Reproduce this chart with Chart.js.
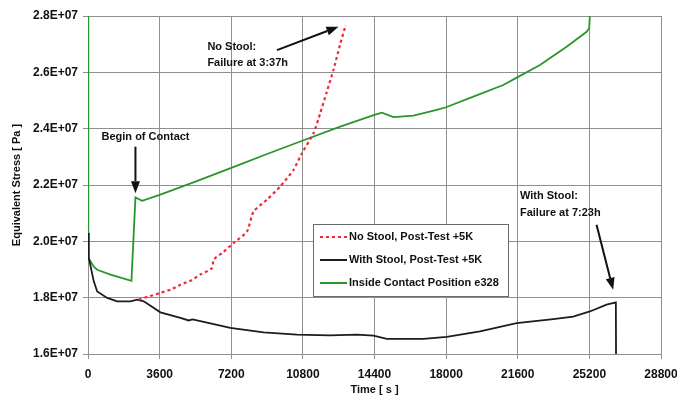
<!DOCTYPE html>
<html>
<head>
<meta charset="utf-8">
<script src="https://cdn.jsdelivr.net/npm/chart.js@4"></script>
<style>
  body { margin: 0; background: #fff; }
</style>
</head>
<body>
<canvas id="stress" width="677" height="405"></canvas>
<script>
// time [s] and equivalent stress [Pa]
const noStoolT = [2550, 3000, 3640, 4200, 4644, 5200, 5648, 6235, 6315, 6800, 7319, 7992, 8323, 8996, 9664, 10331, 10753, 11335, 11672, 12000, 12339, 12676, 12950];
const noStoolV = [1.793e7, 1.803e7, 1.817e7, 1.830e7, 1.846e7, 1.862e7, 1.882e7, 1.905e7, 1.935e7, 1.962e7, 1.994e7, 2.035e7, 2.106e7, 2.148e7, 2.195e7, 2.254e7, 2.313e7, 2.384e7, 2.455e7, 2.530e7, 2.609e7, 2.700e7, 2.768e7];

const withStoolT = [0, 40, 291, 462, 964, 1466, 2134, 2470, 2801, 3640, 4644, 5060, 5250, 5482, 7154, 8825, 10502, 12174, 13514, 14347, 15020, 16857, 18032, 19704, 21546, 23383, 24387, 25226, 26064, 26531, 26545];
const withStoolV = [2.03e7, 1.941e7, 1.858e7, 1.822e7, 1.799e7, 1.787e7, 1.787e7, 1.793e7, 1.787e7, 1.748e7, 1.728e7, 1.719e7, 1.723e7, 1.719e7, 1.693e7, 1.677e7, 1.669e7, 1.666e7, 1.669e7, 1.665e7, 1.654e7, 1.654e7, 1.661e7, 1.680e7, 1.710e7, 1.724e7, 1.733e7, 1.751e7, 1.775e7, 1.783e7, 1.5e7];

const contactT = [0, 15, 290, 460, 1130, 2184, 2385, 2720, 3600, 5400, 7200, 9000, 10800, 12676, 14397, 14769, 15351, 16355, 17530, 17997, 19367, 20873, 21596, 22716, 24056, 25060, 25190, 25300];
const contactV = [3.0e7, 1.942e7, 1.910e7, 1.899e7, 1.882e7, 1.860e7, 2.156e7, 2.144e7, 2.165e7, 2.212e7, 2.261e7, 2.310e7, 2.358e7, 2.407e7, 2.449e7, 2.457e7, 2.441e7, 2.446e7, 2.467e7, 2.476e7, 2.514e7, 2.555e7, 2.583e7, 2.626e7, 2.691e7, 2.744e7, 2.756e7, 2.9e7];

const xTicks = [0, 3600, 7200, 10800, 14400, 18000, 21600, 25200, 28800];
const yTicks = [1.6e7, 1.8e7, 2.0e7, 2.2e7, 2.4e7, 2.6e7, 2.8e7];

const pts = (t, v) => t.map((x, i) => ({x: x, y: v[i]}));
const FONT = 'Liberation Sans, Arial, sans-serif';
const GRID = '#8f8f8f';

// text notes and arrows, placed in data units
const notes = [
  {lines: ['No Stool:', 'Failure at 3:37h'], x: 6000, y: 2.691e7, arrow: [9500, 2.679e7, 12590, 2.762e7]},
  {lines: ['Begin of Contact'], x: 680, y: 2.372e7, arrow: [2385, 2.336e7, 2385, 2.171e7]},
  {lines: ['With Stool:', 'Failure at 7:23h'], x: 21710, y: 2.160e7, arrow: [25560, 2.059e7, 26395, 1.828e7]}
];

const notesPlugin = {
  id: 'notes',
  afterDatasetsDraw(chart) {
    const ctx = chart.ctx, xs = chart.scales.x, ys = chart.scales.y;
    ctx.save();
    ctx.font = 'bold 11px ' + FONT;
    ctx.fillStyle = '#111';
    ctx.strokeStyle = '#111';
    ctx.textBaseline = 'middle';
    notes.forEach(n => {
      n.lines.forEach((s, i) => {
        ctx.fillText(s, xs.getPixelForValue(n.x), ys.getPixelForValue(n.y) + i * 16.7);
      });
      const [t0, v0, t1, v1] = n.arrow;
      const x0 = xs.getPixelForValue(t0), y0 = ys.getPixelForValue(v0);
      const x1 = xs.getPixelForValue(t1), y1 = ys.getPixelForValue(v1);
      const a = Math.atan2(y1 - y0, x1 - x0), len = 12, w = 4.5;
      const bx = x1 - len * Math.cos(a), by = y1 - len * Math.sin(a);
      ctx.lineWidth = 2;
      ctx.beginPath(); ctx.moveTo(x0, y0); ctx.lineTo(bx, by); ctx.stroke();
      ctx.beginPath();
      ctx.moveTo(x1, y1);
      ctx.lineTo(bx + w * Math.sin(a), by - w * Math.cos(a));
      ctx.lineTo(bx - w * Math.sin(a), by + w * Math.cos(a));
      ctx.closePath(); ctx.fill();
    });

    // legend box inside the plot
    const ca = chart.chartArea;
    const lx = ca.left + 225, ly = ca.top + 208, lw = 195, lh = 72;
    ctx.fillStyle = '#fff';
    ctx.fillRect(lx, ly, lw, lh);
    ctx.strokeStyle = '#6a6a6a';
    ctx.lineWidth = 1;
    ctx.strokeRect(lx + 0.5, ly + 0.5, lw, lh);
    chart.data.datasets.forEach((d, i) => {
      const ry = ly + 13 + i * 23;
      ctx.strokeStyle = d.borderColor;
      ctx.lineWidth = 2;
      ctx.setLineDash(d.borderDash || []);
      ctx.beginPath(); ctx.moveTo(lx + 7, ry); ctx.lineTo(lx + 34, ry); ctx.stroke();
      ctx.setLineDash([]);
      ctx.fillStyle = '#111';
      ctx.fillText(d.label, lx + 36, ry);
    });
    ctx.restore();
  }
};

new Chart(document.getElementById('stress'), {
  type: 'scatter',
  data: {
    datasets: [
      {
        label: 'No Stool, Post-Test +5K',
        data: pts(noStoolT, noStoolV),
        showLine: true, borderColor: '#ee2a35', borderWidth: 2.2, borderDash: [3, 3],
        pointRadius: 0, tension: 0.2
      },
      {
        label: 'With Stool, Post-Test +5K',
        data: pts(withStoolT, withStoolV),
        showLine: true, borderColor: '#1c1c1c', borderWidth: 1.8,
        pointRadius: 0, tension: 0
      },
      {
        label: 'Inside Contact Position e328',
        data: pts(contactT, contactV),
        showLine: true, borderColor: '#2a962a', borderWidth: 1.8,
        pointRadius: 0, tension: 0
      }
    ]
  },
  options: {
    responsive: false,
    animation: false,
    devicePixelRatio: 1,
    layout: { padding: { top: 16, right: 16, left: 0, bottom: 0 } },
    plugins: { legend: { display: false }, tooltip: { enabled: false } },
    scales: {
      x: {
        type: 'linear', min: 0, max: 28800,
        afterBuildTicks: s => { s.ticks = xTicks.map(v => ({value: v})); },
        afterFit: s => { s.height = 51; s.paddingLeft = 0; s.paddingRight = 0; },
        ticks: { font: { family: FONT, size: 12, weight: 'bold' }, color: '#111', padding: 8, maxRotation: 0,
          callback: v => String(v) },
        grid: { color: GRID, tickLength: 5 },
        border: { color: GRID },
        title: { display: true, text: 'Time [ s ]', font: { family: FONT, size: 11, weight: 'bold' }, color: '#111', padding: { bottom: 8 } }
      },
      y: {
        min: 1.6e7, max: 2.8e7,
        afterBuildTicks: s => { s.ticks = yTicks.map(v => ({value: v})); },
        afterFit: s => { s.width = 88; },
        ticks: {
          font: { family: FONT, size: 12, weight: 'bold' }, color: '#111', padding: 5,
          callback: v => (v / 1e7).toFixed(1) + 'E+07'
        },
        grid: { color: GRID, tickLength: 5 },
        border: { color: GRID },
        title: { display: true, text: 'Equivalent Stress [ Pa ]', font: { family: FONT, size: 11, weight: 'bold' }, color: '#111', padding: { top: 10 } }
      }
    }
  },
  plugins: [notesPlugin]
});
</script>
</body>
</html>
